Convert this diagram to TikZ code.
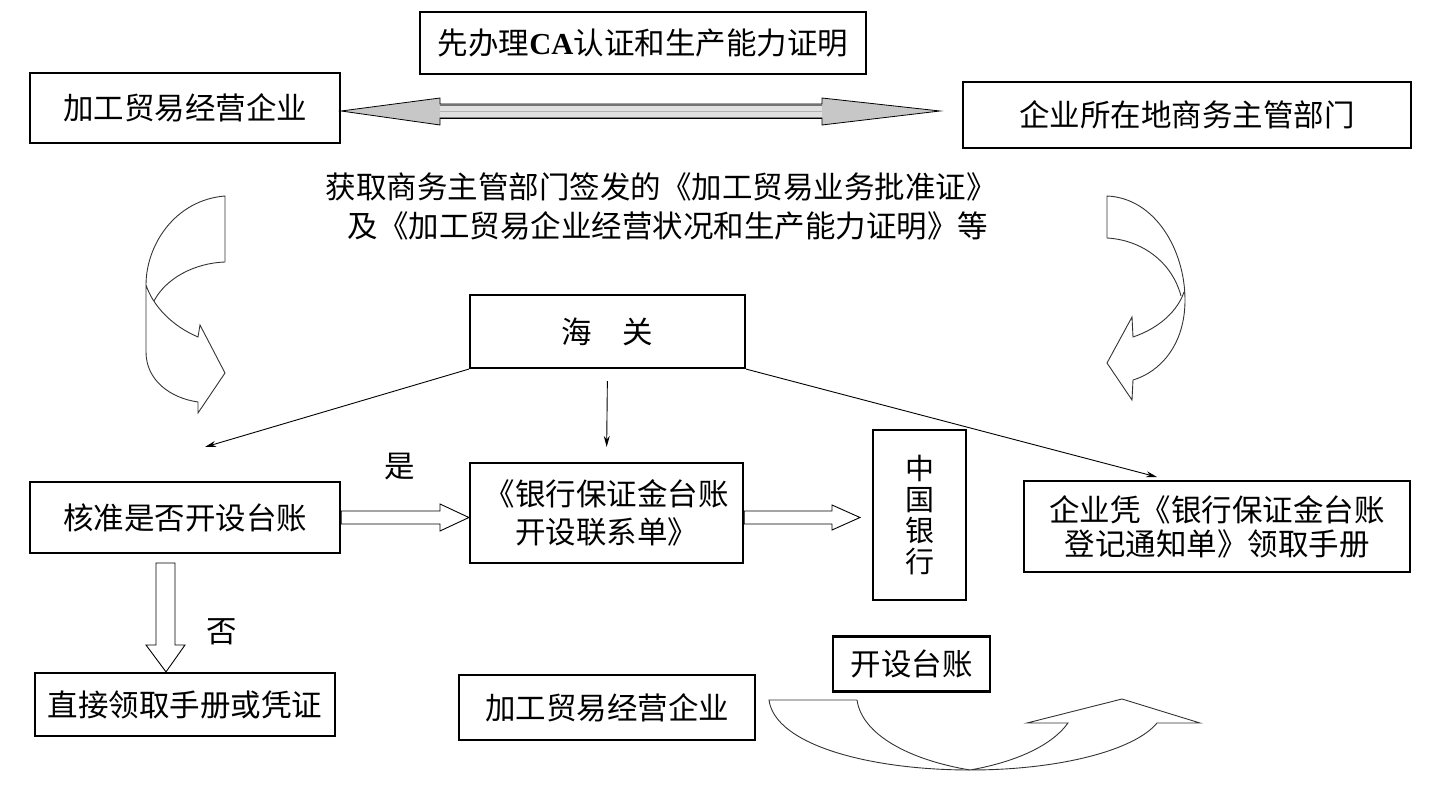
\documentclass[tikz,border=0pt]{standalone}
\usepackage{fontspec}
\setmainfont{Noto Sans CJK SC}
\newfontfamily\latinfont{Liberation Serif}
\usetikzlibrary{arrows.meta}
\tikzset{
  box/.style={draw, line width=2.2pt, inner sep=0pt, align=center},
  thinarrow/.style={line width=0.9pt, -{Stealth[length=11pt,width=6pt]}},
  hollow/.style={draw, line width=0.9pt, fill=white, line join=miter},
  curvearrow/.style={draw=black!80, line width=0.9pt},
  label/.style={inner sep=0pt}
}
\begin{document}
\begin{tikzpicture}[x=1pt,y=-1pt,font=\fontsize{30.5}{35}\selectfont]
\useasboundingbox (0,0) rectangle (1441,791);

% boxes
\node[box, minimum width=446pt, minimum height=62pt] (ca) at (643,43) {先办理{\latinfont\bfseries CA}认证和生产能力证明};
\node[box, minimum width=310pt, minimum height=70pt] (ent1) at (185,108) {加工贸易经营企业};
\node[box, minimum width=448pt, minimum height=66pt] (dept) at (1187,115) {企业所在地商务主管部门};
\node[box, minimum width=275pt, minimum height=73pt] (hg) at (607.5,331.5) {海\hspace{1em}关};
\node[box, minimum width=310pt, minimum height=71pt] (hz) at (185,517.5) {核准是否开设台账};
\node[box, minimum width=273pt, minimum height=100pt, font=\fontsize{30.5}{38}\selectfont] (lx) at (606.5,513) {《银行保证金台账\\开设联系单》};
\node[box, minimum width=93pt, minimum height=170pt, font=\fontsize{29}{31}\selectfont] (boc) at (919.5,515) {中\\国\\银\\行};
\node[box, minimum width=386pt, minimum height=91pt, font=\fontsize{30.5}{34}\selectfont] (qy) at (1217,526.5) {企业凭《银行保证金台账\\登记通知单》领取手册};
\node[box, minimum width=300pt, minimum height=63pt] (zj) at (185,704.5) {直接领取手册或凭证};
\node[box, minimum width=296pt, minimum height=65pt] (ent2) at (607,707.5) {加工贸易经营企业};
\node[box, minimum width=157pt, minimum height=55pt] (ksz) at (911.5,664) {开设台账};

% free text
\node[label] (t1) at (661,187) {获取商务主管部门签发的《加工贸易业务批准证》};
\node[label] (t2) at (668,226) {及《加工贸易企业经营状况和生产能力证明》等};
\node[label] (yes) at (400,467) {是};
\node[label] (no) at (222,632) {否};

% double grey arrow between top boxes
\coordinate (dl) at (ent1.east |- 0,111);
\coordinate (dr) at (940,111);
\draw[line width=0.8pt, fill=black!22, line join=miter]
  (dl) -- (440,98) -- (440,104) -- (822,104) -- (822,98)
  -- (dr) -- (822,125) -- (822,118) -- (440,118) -- (440,125) -- cycle;
\fill[black!12] (440,106) rectangle (822,117);
\draw[line width=1.8pt, black!55] (440,105) -- (822,105);
\draw[line width=0.6pt, black!30] (440,111) -- (822,111);
\draw[line width=0.8pt] (440,118) -- (822,118);

% thin connectors from customs
\coordinate (c1) at (205,447);
\coordinate (c2) at (1157,477);
\draw[thinarrow] (hg.south west) -- (c1);
\draw[thinarrow, shorten <=12pt, shorten >=15pt] (hg.south) -- (lx.north);
\draw[thinarrow] (hg.south east) -- (c2);

% hollow arrows
\draw[hollow] (hz.east |- 0,511) -- (440,511) -- (440,504) -- (lx.west |- 0,517.5) -- (440,531) -- (440,524) -- (hz.east |- 0,524) -- cycle;
\draw[hollow] (lx.east |- 0,511) -- (832,511) -- (832,505) -- (860,517.5) -- (832,530) -- (832,524) -- (lx.east |- 0,524) -- cycle;
\draw[hollow] (156,563) -- (175,563) -- (175,645) -- (185,645) -- (zj.north -| 166,0) -- (146,645) -- (156,645) -- cycle;

% left curved arrow
\draw[curvearrow, line join=miter]
  (225,262) -- (225,196) .. controls (175,200) and (146,245) .. (146,285)
  -- (146,352) .. controls (146,380) and (170,398) .. (198,402)
  -- (198,413) -- (225,373) -- (200,325) -- (198,337)
  .. controls (172,326) and (153,306) .. (146,285);
\draw[curvearrow] (225,262) .. controls (195,263) and (166,278) .. (154,301);

% right curved arrow
\draw[curvearrow, line join=miter]
  (1107,238) -- (1107,196) .. controls (1155,198) and (1185,250) .. (1185,300)
  .. controls (1185,345) and (1160,372) .. (1133,380)
  -- (1132,400) -- (1107,363) -- (1132,317) -- (1133,337)
  .. controls (1160,328) and (1178,310) .. (1184,292);
\draw[curvearrow] (1107,238) .. controls (1142,240) and (1172,262) .. (1181,296);

% bottom curved arrow
\draw[curvearrow, line join=miter]
  (857,700) -- (769,700) .. controls (775,745) and (870,770) .. (970,770)
  .. controls (1060,770) and (1135,750) .. (1157,723)
  -- (1200,723) -- (1122,699) -- (1027,723) -- (1068,723)
  .. controls (1050,748) and (1010,763) .. (970,770);
\draw[curvearrow] (857,700) .. controls (862,735) and (910,760) .. (970,770);
\end{tikzpicture}
\end{document}
